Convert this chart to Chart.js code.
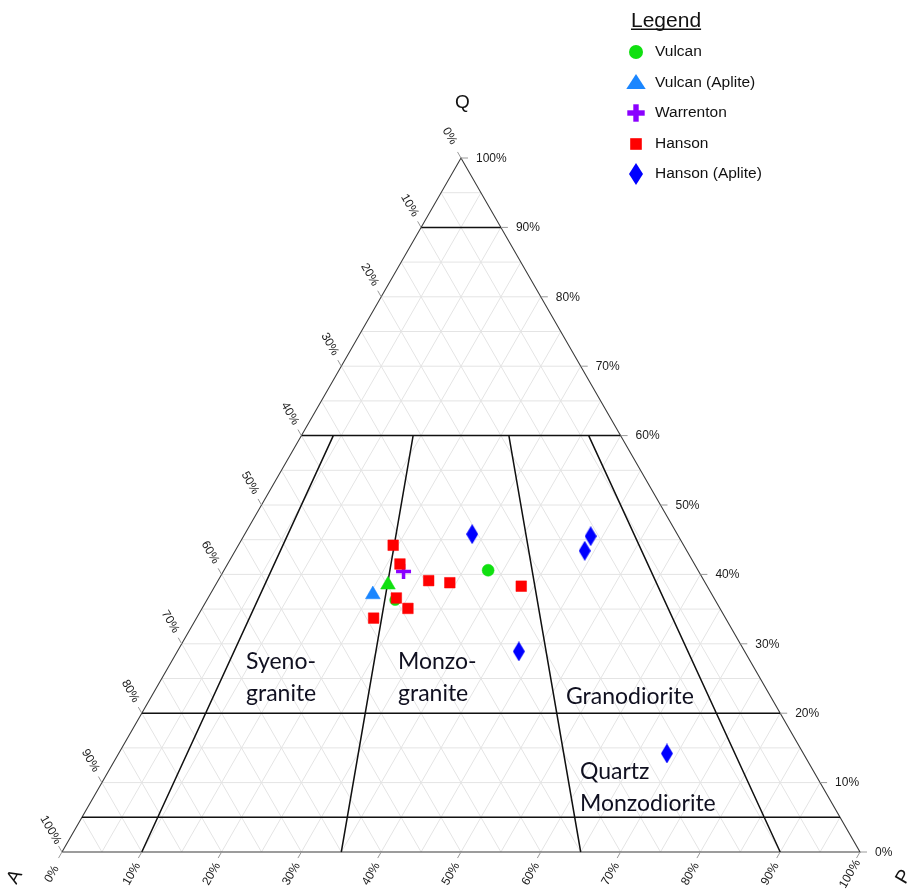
<!DOCTYPE html>
<html>
<head>
<meta charset="utf-8">
<script src="https://cdn.jsdelivr.net/npm/chart.js@4.4.1/dist/chart.umd.min.js"></script>
<style>
  html, body { margin: 0; padding: 0; background: #fff; }
  #wrap { width: 914px; height: 890px; }
</style>
</head>
<body>
<div id="wrap"><canvas id="qap" width="914" height="890"></canvas></div>
<script>
// Modal compositions, each sample as [Q, A, P] in percent
const vulcan       = [[40.6, 26.3, 33.1], [36.3, 40.1, 23.6], [38.5, 39.9, 21.6]];
const vulcanShapes = ['circle', 'circle', 'triangle'];
const vulcanAplite = [[37.1, 42.5, 20.4]];
const warrenton    = [[40.4, 37.0, 22.6]];
const hanson       = [[44.2, 36.4, 19.4], [41.5, 36.9, 21.6], [39.1, 34.5, 26.4], [38.8, 32.0, 29.2],
                      [38.3, 23.3, 38.4], [36.6, 39.8, 23.6], [35.1, 39.1, 25.8], [33.7, 44.1, 22.2]];
const hansonAplite = [[45.8, 25.7, 28.5], [45.5, 11.0, 43.5], [43.4, 12.8, 43.8], [28.9, 28.3, 42.8],
                      [14.2, 17.1, 68.7]];

// Streckeisen field boundaries
const qBoundaries      = [90, 60, 20, 5];   // constant Q
const pRatioBoundaries = [10, 35, 65, 90];  // 100*P/(A+P), drawn below Q = 60

const seriesNames = ['Vulcan', 'Vulcan (Aplite)', 'Warrenton', 'Hanson', 'Hanson (Aplite)'];
const tickPercents = [0, 10, 20, 30, 40, 50, 60, 70, 80, 90, 100];
const gridStep = 5;

const fieldNames = [
  { lines: ['Syeno-', 'granite'], x: 246, y: 669 },
  { lines: ['Monzo-', 'granite'], x: 398, y: 669 },
  { lines: ['Granodiorite'], x: 566, y: 704 },
  { lines: ['Quartz', 'Monzodiorite'], x: 580, y: 779 }
];

const COLORS = {
  vulcan: '#10e010', vulcanAplite: '#1a86ff', warrenton: '#8a00ff',
  hanson: '#ff0000', hansonAplite: '#0000ff'
};

// ternary (Q, A, P) -> cartesian, x in 0..100 along A->P, y = Q
function tern(q, a, p) {
  const s = q + a + p;
  return { x: (p + q / 2) / s * 100, y: q / s * 100 };
}
const GAP = { x: null, y: null };

// light 5% grid in the three directions
const gridPts = [];
for (let k = gridStep; k < 100; k += gridStep) {
  gridPts.push(tern(k, 100 - k, 0), tern(k, 0, 100 - k), GAP);       // Q = k
  gridPts.push(tern(0, 100 - k, k), tern(100 - k, 0, k), GAP);       // P = k
  gridPts.push(tern(0, k, 100 - k), tern(100 - k, k, 0), GAP);       // A = k
}
const borderPts = [tern(0, 100, 0), tern(0, 0, 100), tern(100, 0, 0), tern(0, 100, 0)];
const fieldPts = [];
qBoundaries.forEach(q => fieldPts.push(tern(q, 100 - q, 0), tern(q, 0, 100 - q), GAP));
pRatioBoundaries.forEach(r => {
  const topP = (100 - 60) * r / 100;
  fieldPts.push(tern(60, 40 - topP, topP), tern(0, 100 - r, r), GAP);
});

// elongated diamond marker for the Hanson aplites
function diamondImage(w, h, color) {
  const c = document.createElement('canvas');
  c.width = w; c.height = h;
  const g = c.getContext('2d');
  g.fillStyle = color;
  g.beginPath();
  g.moveTo(w / 2, 0); g.lineTo(w, h / 2); g.lineTo(w / 2, h); g.lineTo(0, h / 2);
  g.closePath(); g.fill();
  return c;
}
const diamond = diamondImage(12, 20, COLORS.hansonAplite);

const toPts = rows => rows.map(r => tern(r[0], r[1], r[2]));
const lineSet = (data, color, width, order) => ({
  data, showLine: true, borderColor: color, borderWidth: width, pointRadius: 0,
  pointHoverRadius: 0, spanGaps: false, fill: false, order, clip: false
});

const ternaryAxes = {
  id: 'ternaryAxes',
  afterDatasetsDraw(chart) {
    const { ctx, scales: { x, y } } = chart;
    const pix = (q, a, p) => { const t = tern(q, a, p); return [x.getPixelForValue(t.x), y.getPixelForValue(t.y)]; };
    const dir = (e, o) => { const dx = o[0] - e[0], dy = o[1] - e[1], l = Math.hypot(dx, dy); return [dx / l, dy / l]; };
    ctx.save();
    ctx.strokeStyle = '#9a9a9a';
    ctx.lineWidth = 1;
    ctx.fillStyle = '#1a1a1a';
    ctx.font = '12px "Liberation Sans", Arial, sans-serif';
    const tickLen = 7;
    tickPercents.forEach(k => {
      // Q on the right edge
      let e = pix(k, 0, 100 - k), d = dir(e, pix(k, -1, 101 - k));
      ctx.beginPath(); ctx.moveTo(e[0], e[1]); ctx.lineTo(e[0] + d[0] * tickLen, e[1] + d[1] * tickLen); ctx.stroke();
      ctx.textAlign = 'left'; ctx.textBaseline = 'middle';
      ctx.fillText(k + '%', e[0] + 15, e[1] + 0.5);
      // P along the bottom
      e = pix(0, 100 - k, k); d = dir(e, pix(-1, 101 - k, k));
      ctx.beginPath(); ctx.moveTo(e[0], e[1]); ctx.lineTo(e[0] + d[0] * tickLen, e[1] + d[1] * tickLen); ctx.stroke();
      ctx.save(); ctx.translate(e[0] - 10, e[1] + 22); ctx.rotate(-Math.PI / 3);
      ctx.textAlign = 'center'; ctx.fillText(k + '%', 0, 0); ctx.restore();
      // A on the left edge
      e = pix(100 - k, k, 0); d = dir(e, pix(101 - k, k, -1));
      ctx.beginPath(); ctx.moveTo(e[0], e[1]); ctx.lineTo(e[0] + d[0] * tickLen, e[1] + d[1] * tickLen); ctx.stroke();
      ctx.save(); ctx.translate(e[0] - 11.5, e[1] - 22); ctx.rotate(Math.PI / 3);
      ctx.textAlign = 'center'; ctx.fillText(k + '%', 0, 0); ctx.restore();
    });

    // apex letters
    ctx.fillStyle = '#111';
    ctx.font = '19px "Liberation Sans", Arial, sans-serif';
    ctx.textAlign = 'center'; ctx.textBaseline = 'middle';
    ctx.fillText('Q', 462.5, 103);
    [['A', 15, 877], ['P', 904, 877]].forEach(([s, tx, ty]) => {
      ctx.save(); ctx.translate(tx, ty); ctx.rotate(-Math.PI / 3); ctx.fillText(s, 0, 0); ctx.restore();
    });

    // field names
    ctx.fillStyle = '#101020';
    ctx.font = '23px Lato, "Open Sans", sans-serif';
    ctx.textAlign = 'left'; ctx.textBaseline = 'alphabetic';
    fieldNames.forEach(f => f.lines.forEach((s, i) => ctx.fillText(s, f.x, f.y + i * 31.5)));

    // legend
    ctx.fillStyle = '#111';
    ctx.font = '21px "Liberation Sans", Arial, sans-serif';
    ctx.textBaseline = 'alphabetic';
    ctx.fillText('Legend', 631, 27);
    const lw = ctx.measureText('Legend').width;
    ctx.fillRect(631, 28.5, lw, 1.5);
    ctx.font = '15.5px "Liberation Sans", Arial, sans-serif';
    ctx.textBaseline = 'middle';
    const rows = [52, 82.5, 113, 144, 174];
    seriesNames.forEach((n, i) => ctx.fillText(n, 655, rows[i]));
    const mx = 636;
    ctx.fillStyle = COLORS.vulcan;
    ctx.beginPath(); ctx.arc(mx, rows[0], 7, 0, Math.PI * 2); ctx.fill();
    ctx.fillStyle = COLORS.vulcanAplite;
    ctx.beginPath(); ctx.moveTo(mx, rows[1] - 8.5); ctx.lineTo(mx + 9.7, rows[1] + 6.5); ctx.lineTo(mx - 9.7, rows[1] + 6.5); ctx.closePath(); ctx.fill();
    ctx.fillStyle = COLORS.warrenton;
    ctx.fillRect(mx - 8.7, rows[2] - 2.7, 17.4, 5.4);
    ctx.fillRect(mx - 2.7, rows[2] - 8.7, 5.4, 17.4);
    ctx.fillStyle = COLORS.hanson;
    ctx.fillRect(mx - 5.8, rows[3] - 5.8, 11.6, 11.6);
    ctx.fillStyle = COLORS.hansonAplite;
    ctx.beginPath(); ctx.moveTo(mx, rows[4] - 11); ctx.lineTo(mx + 7, rows[4]); ctx.lineTo(mx, rows[4] + 11); ctx.lineTo(mx - 7, rows[4]); ctx.closePath(); ctx.fill();
    ctx.restore();
  }
};

new Chart(document.getElementById('qap'), {
  type: 'scatter',
  data: {
    datasets: [
      { label: seriesNames[3], data: toPts(hanson), pointStyle: 'rect', pointRadius: 7.5, borderWidth: 0.5,
        backgroundColor: COLORS.hanson, borderColor: COLORS.hanson, order: 1 },
      { label: seriesNames[4], data: toPts(hansonAplite), pointStyle: diamond, pointRadius: 10, order: 2 },
      { label: seriesNames[2], data: toPts(warrenton), pointStyle: 'crossRot', rotation: 45, pointRadius: 7.5, borderWidth: 3.5,
        borderColor: COLORS.warrenton, backgroundColor: COLORS.warrenton, order: 3 },
      { label: seriesNames[1], data: toPts(vulcanAplite), pointStyle: 'triangle', pointRadius: 8.5, borderWidth: 0.5,
        backgroundColor: COLORS.vulcanAplite, borderColor: COLORS.vulcanAplite, order: 4 },
      { label: seriesNames[0], data: toPts(vulcan), pointStyle: vulcanShapes, pointRadius: [6, 5.5, 8.5], borderWidth: 0.5,
        backgroundColor: COLORS.vulcan, borderColor: COLORS.vulcan, order: 5 },
      lineSet(fieldPts, '#111', 1.5, 10),
      lineSet(borderPts, '#3a3a3a', 1.1, 20),
      lineSet(gridPts, '#e4e4e4', 1, 30)
    ]
  },
  options: {
    responsive: false,
    animation: false,
    events: [],
    layout: { padding: { left: 62, right: 54, top: 158, bottom: 38 } },
    scales: {
      x: { type: 'linear', min: 0, max: 100, display: false },
      y: { type: 'linear', min: 0, max: 100, display: false }
    },
    plugins: { legend: { display: false }, tooltip: { enabled: false } }
  },
  plugins: [ternaryAxes]
});
</script>
</body>
</html>
